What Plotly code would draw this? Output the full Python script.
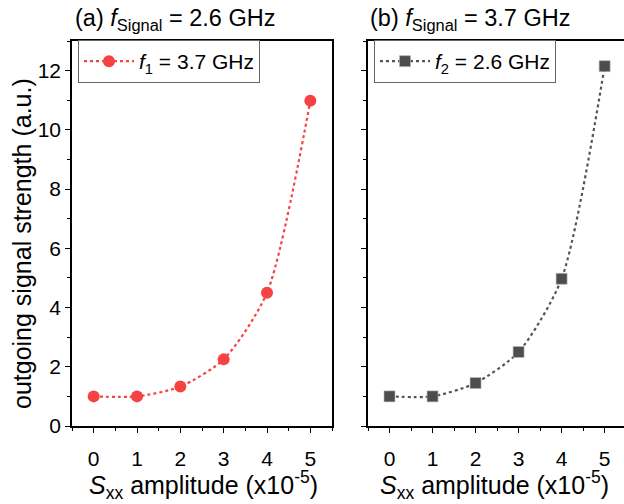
import plotly.graph_objects as go

x_vals = [0, 1, 2, 3, 4, 5]
signal_a = [1.0, 1.0, 1.33, 2.25, 4.5, 10.98]
signal_b = [1.0, 1.0, 1.45, 2.5, 4.97, 12.15]
name_a = "<i>f</i><sub>1</sub> = 3.7 GHz"
name_b = "<i>f</i><sub>2</sub> = 2.6 GHz"
title_a = "(a) <i>f</i><sub>Signal</sub> = 2.6 GHz"
title_b = "(b) <i>f</i><sub>Signal</sub> = 3.7 GHz"
x_title = "<i>S</i><sub>xx</sub> amplitude (x10<sup>-5</sup>)"
y_title = "outgoing signal strength (a.u.)"

FONT = "Liberation Sans, Arial, sans-serif"
W, H = 624, 504
ml, mr, mt, mb = 72, 0, 41, 504 - 426
pw = W - ml - mr
ph = H - mt - mb

def px(xpix):
    return (xpix - ml) / pw

def py(ypix):
    return (H - mb - ypix) / ph

fig = go.Figure()
fig.add_trace(go.Scatter(
    x=x_vals, y=signal_a, mode="lines+markers", name=name_a,
    line=dict(color="#f54242", width=2.2, dash="dot", shape="spline", smoothing=0.7),
    marker=dict(symbol="circle", size=12, color="#f54242"),
    xaxis="x", yaxis="y", legend="legend"))
fig.add_trace(go.Scatter(
    x=x_vals, y=signal_b, mode="lines+markers", name=name_b,
    line=dict(color="#555555", width=2.2, dash="dot", shape="spline", smoothing=0.7),
    marker=dict(symbol="square", size=11, color="#4d4d4d", line=dict(color="#bbbbbb", width=0.6)),
    xaxis="x2", yaxis="y2", legend="legend2"))

axis_common = dict(
    showline=True, linecolor="black", linewidth=1.5,
    ticks="outside", ticklen=5, tickwidth=1.3, tickcolor="black",
    showgrid=False, zeroline=False,
    tickfont=dict(family=FONT, size=21, color="black"),
)
minor_x = dict(dtick=0.5, ticks="outside", ticklen=3, tickwidth=1.2, tickcolor="black", showgrid=False)
minor_y = dict(dtick=1, ticks="outside", ticklen=3, tickwidth=1.2, tickcolor="black", showgrid=False)

d1 = [0, px(332)]
d2 = [px(368), 1]

legend_common = dict(xanchor="left", yanchor="top", bordercolor="#666666", borderwidth=1,
                     bgcolor="white", font=dict(family=FONT, size=21, color="black"),
                     itemwidth=50, tracegroupgap=0)

fig.update_layout(
    width=W, height=H,
    margin=dict(l=ml, r=mr, t=mt, b=mb),
    paper_bgcolor="white", plot_bgcolor="white",
    font=dict(family=FONT, size=21, color="black"),
    showlegend=True,
    xaxis=dict(domain=d1, range=[-0.5, 5.5], tickvals=x_vals, mirror=True, minor=minor_x,
               ticklabelstandoff=8, **axis_common),
    yaxis=dict(domain=[0, 1], range=[0, 13], dtick=2, mirror=True, minor=minor_y, **axis_common),
    xaxis2=dict(domain=d2, range=[-0.5, 5.45], tickvals=x_vals, mirror=True, minor=minor_x, anchor="y2",
                ticklabelstandoff=8, **axis_common),
    yaxis2=dict(domain=[0, 1], range=[0, 13], dtick=2, mirror=False, minor=minor_y, anchor="x2",
                showticklabels=False, **axis_common),
    legend=dict(x=px(78), y=py(40), **legend_common),
    legend2=dict(x=px(374), y=py(40), **legend_common),
    annotations=[
        dict(text=title_a, xref="paper", yref="paper", x=px(73), y=py(36),
             xanchor="left", yanchor="bottom", showarrow=False,
             font=dict(family=FONT, size=23.5, color="black")),
        dict(text=title_b, xref="paper", yref="paper", x=px(368), y=py(36),
             xanchor="left", yanchor="bottom", showarrow=False,
             font=dict(family=FONT, size=23.5, color="black")),
        dict(text=x_title, xref="paper", yref="paper", x=px(203), y=py(485),
             xanchor="center", yanchor="middle", showarrow=False,
             font=dict(family=FONT, size=25, color="black")),
        dict(text=x_title, xref="paper", yref="paper", x=px(494), y=py(485),
             xanchor="center", yanchor="middle", showarrow=False,
             font=dict(family=FONT, size=25, color="black")),
        dict(text=y_title, xref="paper", yref="paper", x=px(22), y=py(244),
             xanchor="center", yanchor="middle", showarrow=False, textangle=-90,
             font=dict(family=FONT, size=25, color="black")),
    ],
)

fig.write_html("out.html", config={"displayModeBar": False},
               post_script="document.body.style.margin='0px';")
